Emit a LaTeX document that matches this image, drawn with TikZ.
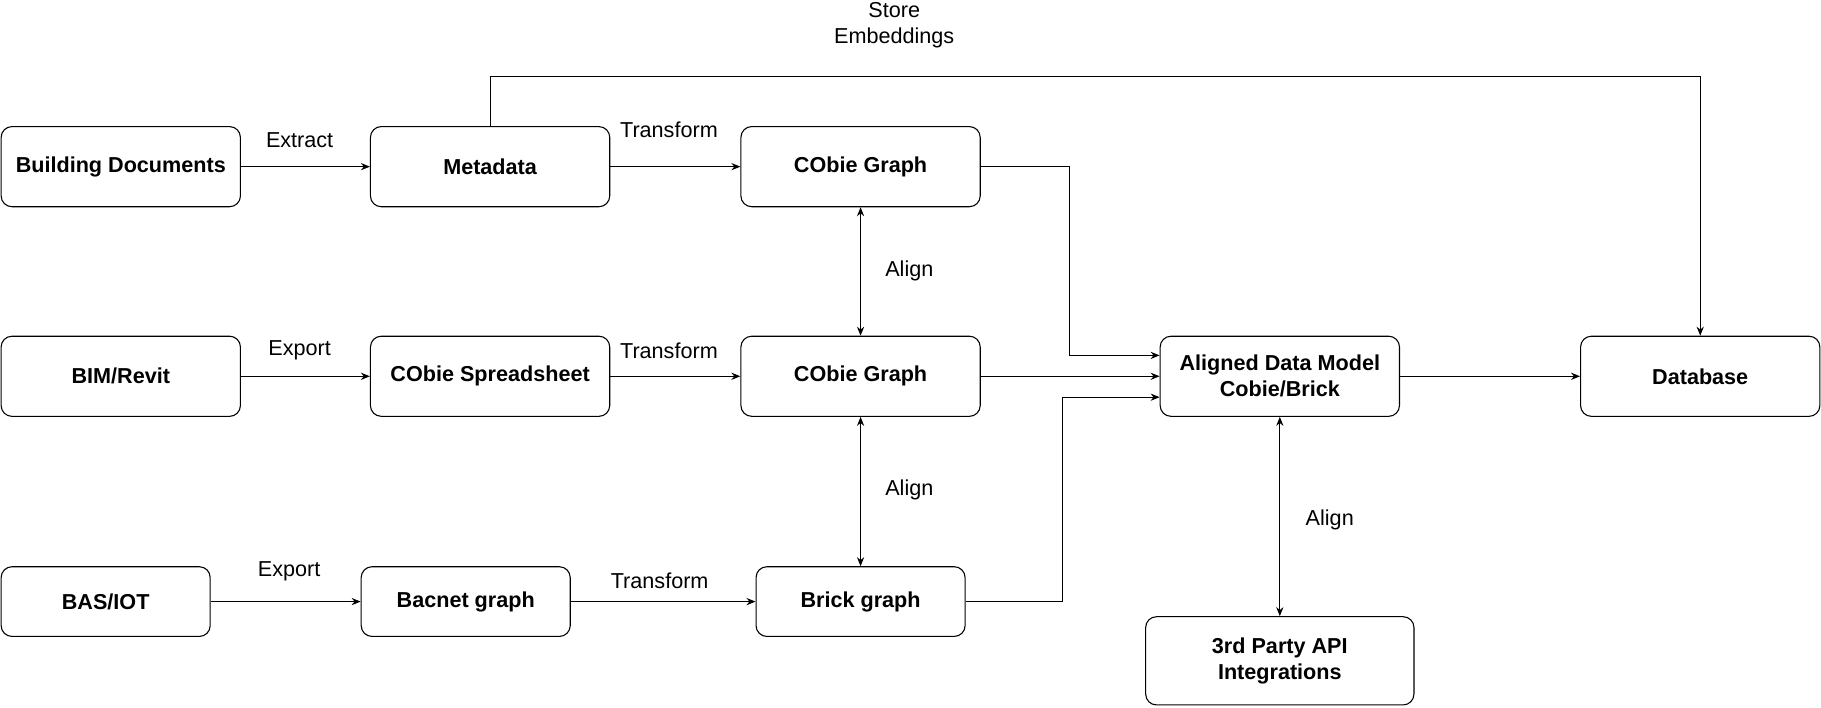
\documentclass[tikz,border=0pt]{standalone}
\usepackage{fontspec}
\setmainfont{Liberation Sans}
\usetikzlibrary{arrows.meta, positioning}

\begin{document}
\begin{tikzpicture}[
  x=0.645pt, y=-0.645pt,
  every node/.style={font=\fontsize{12}{14.4}\selectfont},
  bigbox/.style={rectangle, draw, rounded corners=6pt, line width=0.6pt, minimum width=132.9pt, minimum height=44.5pt, align=center, font=\fontsize{12}{14.4}\selectfont\bfseries},
  smallbox/.style={bigbox, minimum width=116.1pt, minimum height=38.7pt},
  apibox/.style={bigbox, minimum width=149pt, minimum height=49pt},
  lbl/.style={align=center, inner sep=1pt},
  arr/.style={-{Stealth[length=5pt, width=4pt]}, line width=0.6pt},
  biarr/.style={{Stealth[length=5pt, width=4pt]}-{Stealth[length=5pt, width=4pt]}, line width=0.6pt},
]
\useasboundingbox (0,0) rectangle (1568,609);

% top row
\node[bigbox] (bd) at (104,143.5) {Building Documents};
\node[bigbox] (meta) at (422,143.5) {Metadata};
\node[bigbox] (cg1) at (741,143.5) {CObie Graph};
% middle row
\node[bigbox] (bim) at (104,324) {BIM/Revit};
\node[bigbox] (sheet) at (422,324) {CObie Spreadsheet};
\node[bigbox] (cg2) at (741,324) {CObie Graph};
\node[bigbox] (adm) at (1102,324) {Aligned Data Model\\Cobie/Brick};
\node[bigbox] (db) at (1464,324) {Database};
% bottom row
\node[smallbox] (bas) at (91,518) {BAS/IOT};
\node[smallbox] (bac) at (401,518) {Bacnet graph};
\node[smallbox] (brick) at (741,518) {Brick graph};
\node[apibox] (api) at (1102,569) {3rd Party API\\Integrations};

% labels
\node[lbl] (lstore) at (770,22) {Store\\Embeddings};
\node[lbl] (lext) at (258,121) {Extract};
\node[lbl] (ltr1) at (576,112) {Transform};
\node[lbl] (lal1) at (783,233) {Align};
\node[lbl] (lexp1) at (258,302) {Export};
\node[lbl] (ltr2) at (576,302) {Transform};
\node[lbl] (lal2) at (783,422) {Align};
\node[lbl] (lexp2) at (249,492) {Export};
\node[lbl] (ltr3) at (568,500) {Transform};
\node[lbl] (lal3) at (1145,448) {Align};

% bends
\coordinate (top) at (422,66);
\coordinate (j1) at (921,306);
\coordinate (j2) at (915,342);

\draw[arr] (bd)--(meta);\draw[arr] (meta)--(cg1);
\draw[arr] (bim)--(sheet);\draw[arr] (sheet)--(cg2);\draw[arr] (cg2)--(adm);
\draw[arr] (bas)--(bac);\draw[arr] (bac)--(brick);
\draw[arr] (adm)--(db);
\draw[arr] (meta.north)--(top)-|(db.north);
\draw[arr] (cg1.east)-|(j1)--(j1-|adm.west);
\draw[arr] (brick.east)-|(j2)--(j2-|adm.west);
\draw[biarr] (cg1)--(cg2);\draw[biarr] (cg2)--(brick);\draw[biarr] (adm)--(api);
\end{tikzpicture}
\end{document}
